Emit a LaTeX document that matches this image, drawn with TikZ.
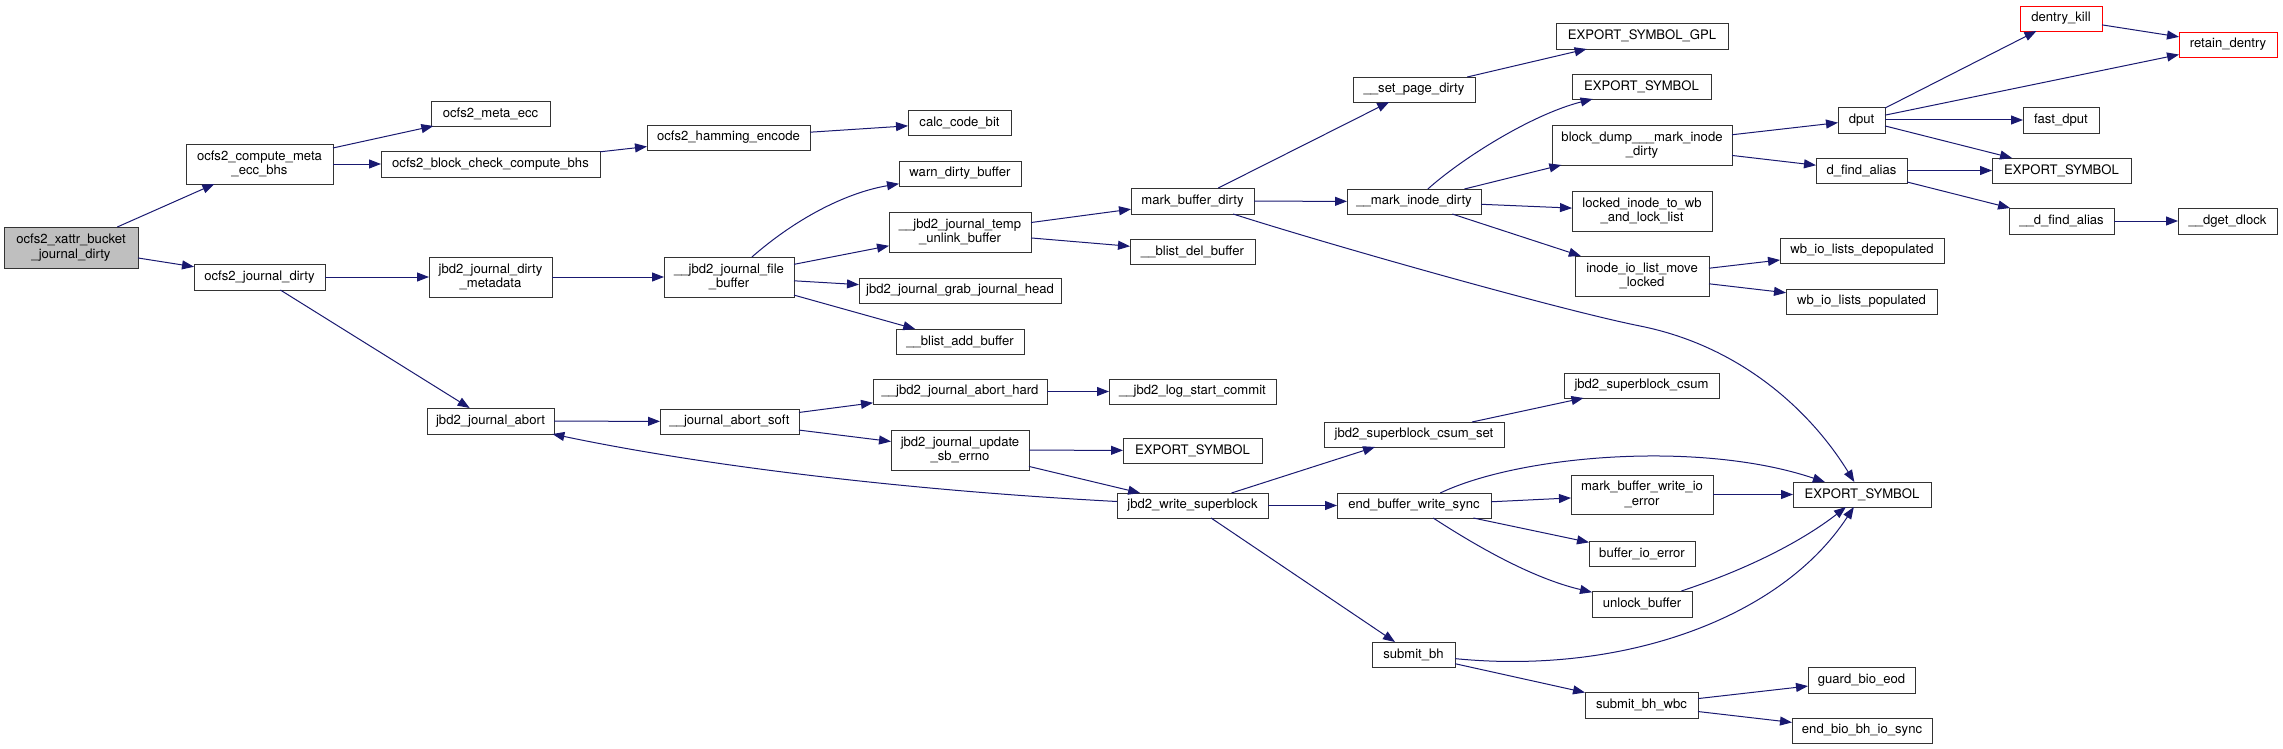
\documentclass[tikz,border=0pt]{standalone}
\usepackage{fontspec}
\usetikzlibrary{arrows.meta}
\newfontfamily\gvfont{TeX Gyre Heros}
\definecolor{edgec}{HTML}{191970}
\definecolor{rootfill}{HTML}{BFBFBF}
\definecolor{nodeline}{HTML}{333333}
\tikzset{
  nbox/.style={draw=nodeline, line width=0.9pt, fill=white, rectangle, inner sep=0pt, outer sep=0pt,
    align=center, font=\gvfont\fontsize{13.1}{14.5}\selectfont},
  rootbox/.style={fill=rootfill},
  redbox/.style={draw=red},
  call/.style={draw=edgec, line width=1pt, -{Triangle[length=12pt,width=9pt]}, edgec},
}
% #2 name, #3 x1, #4 y1, #5 x2, #6 y2, #7 text
\newcommand{\gn}[7][]{%
  \node[nbox,#1,minimum width={(#5-#3)*1pt},minimum height={(#6-#4)*1pt}] (#2) at ({(#3+#5)/2},{(#4+#6)/2}) {#7};}
\begin{document}
\begin{tikzpicture}[x=1pt,y=-1pt]
\useasboundingbox (0,0) rectangle (2283,749);
% column 1
\gn[rootbox]{root}{4}{227}{138}{268}{ocfs2\_xattr\_bucket\\\_journal\_dirty}
% column 2
\gn{cmeb}{186}{144}{333}{184}{ocfs2\_compute\_meta\\\_ecc\_bhs}
\gn{ojd}{194}{264}{325}{290}{ocfs2\_journal\_dirty}
% column 3
\gn{mecc}{431}{101}{550}{126}{ocfs2\_meta\_ecc}
\gn{bccb}{381}{151}{600}{177}{ocfs2\_block\_check\_compute\_bhs}
\gn{jjdm}{429}{257}{552}{297}{jbd2\_journal\_dirty\\\_metadata}
\gn{jja}{427}{408}{554}{434}{jbd2\_journal\_abort}
% column 4
\gn{ham}{647}{125}{810}{150}{ocfs2\_hamming\_encode}
\gn{jfb}{664}{257}{794}{297}{\_\_jbd2\_journal\_file\\\_buffer}
\gn{soft}{660}{409}{799}{434}{\_\_journal\_abort\_soft}
% column 5
\gn{ccb}{908}{110}{1011}{135}{calc\_code\_bit}
\gn{wdb}{899}{161}{1021}{186}{warn\_dirty\_buffer}
\gn{tub}{889}{212}{1031}{252}{\_\_jbd2\_journal\_temp\\\_unlink\_buffer}
\gn{gjh}{859}{278}{1061}{303}{jbd2\_journal\_grab\_journal\_head}
\gn{bab}{896}{329}{1024}{354}{\_\_blist\_add\_buffer}
\gn{jah}{873}{379}{1047}{404}{\_\_jbd2\_journal\_abort\_hard}
\gn{upd}{891}{430}{1029}{470}{jbd2\_journal\_update\\\_sb\_errno}
% column 6
\gn{mbd}{1131}{188}{1254}{214}{mark\_buffer\_dirty}
\gn{bdb}{1130}{239}{1255}{264}{\_\_blist\_del\_buffer}
\gn{lsc}{1109}{379}{1276}{404}{\_\_jbd2\_log\_start\_commit}
\gn{esa}{1123}{438}{1262}{463}{EXPORT\_SYMBOL}
\gn{jws}{1117}{493}{1268}{518}{jbd2\_write\_superblock}
% column 7
\gn{spd}{1353}{77}{1475}{102}{\_\_set\_page\_dirty}
\gn{mind}{1347}{189}{1481}{214}{\_\_mark\_inode\_dirty}
\gn{css}{1324}{422}{1504}{447}{jbd2\_superblock\_csum\_set}
\gn{ebws}{1337}{493}{1491}{518}{end\_buffer\_write\_sync}
\gn{sbh}{1372}{642}{1455}{667}{submit\_bh}
% column 8
\gn{esgpl}{1556}{23}{1728}{49}{EXPORT\_SYMBOL\_GPL}
\gn{esb}{1572}{74}{1711}{99}{EXPORT\_SYMBOL}
\gn{bdm}{1552}{125}{1732}{165}{block\_dump\_\_\_mark\_inode\\\_dirty}
\gn{litw}{1572}{191}{1712}{231}{locked\_inode\_to\_wb\\\_and\_lock\_list}
\gn{iolm}{1575}{256}{1709}{296}{inode\_io\_list\_move\\\_locked}
\gn{sbc}{1564}{373}{1719}{398}{jbd2\_superblock\_csum}
\gn{mbwe}{1571}{475}{1713}{514}{mark\_buffer\_write\_io\\\_error}
\gn{bie}{1589}{541}{1695}{566}{buffer\_io\_error}
\gn{ub}{1592}{591}{1692}{617}{unlock\_buffer}
\gn{sbw}{1585}{692}{1698}{718}{submit\_bh\_wbc}
% column 9
\gn{dput}{1838}{107}{1885}{133}{dput}
\gn{dfa}{1816}{158}{1907}{183}{d\_find\_alias}
\gn{wdep}{1780}{238}{1944}{263}{wb\_io\_lists\_depopulated}
\gn{wpop}{1786}{289}{1937}{314}{wb\_io\_lists\_populated}
\gn{esc}{1793}{482}{1931}{507}{EXPORT\_SYMBOL}
\gn{gbe}{1808}{667}{1915}{693}{guard\_bio\_eod}
\gn{ebb}{1792}{718}{1932}{743}{end\_bio\_bh\_io\_sync}
% column 10
\gn[redbox]{dk}{2020}{6}{2102}{31}{dentry\_kill}
\gn{fd}{2023}{107}{2099}{133}{fast\_dput}
\gn{esd}{1992}{158}{2131}{183}{EXPORT\_SYMBOL}
\gn{dfa2}{2009}{208}{2114}{234}{\_\_d\_find\_alias}
% column 11
\gn[redbox]{rd}{2179}{32}{2277}{57}{retain\_dentry}
\gn{dgd}{2178}{208}{2277}{234}{\_\_dget\_dlock}

% edges
\draw[call] (root) -- (cmeb);
\draw[call] (root) -- (ojd);
\draw[call] (cmeb) -- (mecc);
\draw[call] (cmeb) -- (bccb);
\draw[call] (bccb) -- (ham);
\draw[call] (ham) -- (ccb);
\draw[call] (ojd) -- (jjdm);
\draw[call] (ojd) -- (jja);
\draw[call] (jjdm) -- (jfb);
\draw[call] (jfb) .. controls (800,215) and (850,192) .. (wdb);
\draw[call] (jfb) -- (tub);
\draw[call] (jfb) -- (gjh);
\draw[call] (jfb) -- (bab);
\draw[call] (tub) -- (mbd);
\draw[call] (tub) -- (bdb);
\draw[call] (mbd) -- (spd);
\draw[call] (mbd) -- (mind);
\draw[call] (mbd) .. controls (1330,245) and (1560,310) .. (1640,326) .. controls (1740,346) and (1810,410) .. (esc);
\draw[call] (spd) -- (esgpl);
\draw[call] (mind) .. controls (1460,160) and (1530,115) .. (esb);
\draw[call] (mind) -- (bdm);
\draw[call] (mind) -- (litw);
\draw[call] (mind) -- (iolm);
\draw[call] (bdm) -- (dput);
\draw[call] (bdm) -- (dfa);
\draw[call] (dput) -- (dk);
\draw[call] (dput) -- (rd);
\draw[call] (dput) -- (fd);
\draw[call] (dput) -- (esd);
\draw[call] (dk) -- (rd);
\draw[call] (dfa) -- (esd);
\draw[call] (dfa) -- (dfa2);
\draw[call] (dfa2) -- (dgd);
\draw[call] (iolm) -- (wdep);
\draw[call] (iolm) -- (wpop);
\draw[call] (jja) -- (soft);
\draw[call] (soft) -- (jah);
\draw[call] (soft) -- (upd);
\draw[call] (jah) -- (lsc);
\draw[call] (upd) -- (esa);
\draw[call] (upd) -- (jws);
\draw[call] (jws) .. controls (900,490) and (700,465) .. (jja);
\draw[call] (jws) -- (css);
\draw[call] (jws) -- (ebws);
\draw[call] (jws) -- (sbh);
\draw[call] (css) -- (sbc);
\draw[call] (ebws) .. controls (1520,455) and (1700,440) .. (esc);
\draw[call] (ebws) -- (mbwe);
\draw[call] (ebws) -- (bie);
\draw[call] (ebws) .. controls (1490,555) and (1540,580) .. (ub);
\draw[call] (mbwe) -- (esc);
\draw[call] (ub) .. controls (1760,565) and (1810,535) .. (esc);
\draw[call] (sbh) .. controls (1620,675) and (1780,620) .. (esc);
\draw[call] (sbh) -- (sbw);
\draw[call] (sbw) -- (gbe);
\draw[call] (sbw) -- (ebb);
\end{tikzpicture}
\end{document}
